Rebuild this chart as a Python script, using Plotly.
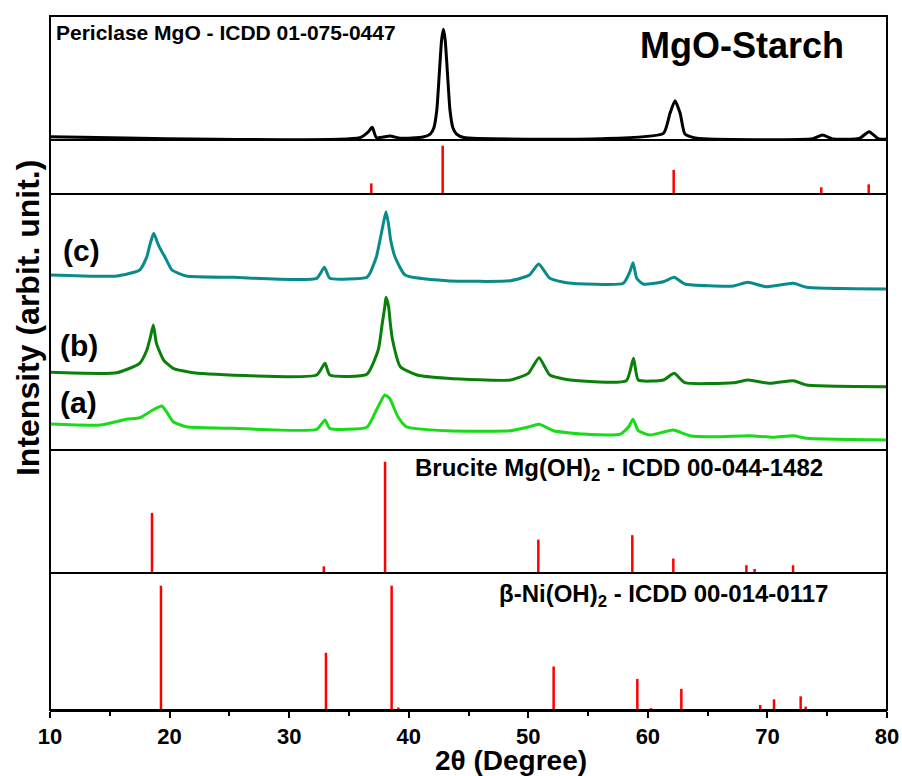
import plotly.graph_objects as go

# ---------------- data (2theta in degrees, intensity in arbitrary units) ----------------
# Panel 1: MgO-Starch measured pattern (black)
mgo_2theta = [10.0, 35.9, 36.6, 36.95, 37.3, 38.45, 39.3, 41.2, 41.8, 42.1, 42.35, 42.55, 42.75,
              42.9, 43.05, 43.25, 43.45, 43.7, 44.0, 44.6, 56.0, 61.3, 61.85, 62.27, 62.7, 63.1,
              64.1, 73.8, 74.6, 75.5, 77.7, 78.5, 79.3, 80.0]
mgo_int = [3.3, 2.3, 8.0, 12.7, 2.3, 4.0, 1.7, 3.0, 6.0, 12.0, 30.0, 65.0, 100.0,
           110.7, 100.0, 65.0, 30.0, 12.0, 6.0, 2.5, 1.3, 6.7, 26.7, 39.3, 26.7, 6.0,
           1.7, 1.3, 5.0, 1.0, 1.7, 8.3, 1.0, 1.0]

# Panel 2: Periclase MgO reference ICDD 01-075-0447
periclase_pos = [36.87, 42.84, 62.16, 74.5, 78.47]
periclase_int = [22, 100, 50, 14, 20]

# Panel 3: stacked samples (a), (b), (c)
c_2theta = [10.0, 15.6, 17.5, 18.1, 18.35, 18.67, 19.0, 19.2, 19.6, 20.2, 21.4, 25.3, 32.3, 32.95,
            33.4, 36.5, 36.76, 37.3, 37.6, 37.88, 38.1, 38.3, 38.49, 38.85, 39.7, 43.2, 48.5,
            50.1, 50.87, 51.8, 53.2, 57.95, 58.5, 58.76, 59.07, 59.6, 61.3, 62.2, 63.1, 67.15,
            68.35, 69.9, 72.17, 73.3, 80.0]
c_int = [175, 174, 180, 193.3, 205, 216.7, 207, 201.7, 193.3, 180, 174, 172.7, 171.7, 182.7,
         171.7, 172.7, 176.7, 193.3, 210, 226.7, 238.3, 226.7, 210, 193.3, 175, 169.3, 169.3,
         175, 186, 171.7, 167.3, 166.7, 178.3, 187.3, 171.7, 166, 168.3, 172.7, 166, 164,
         167.7, 163.3, 166.7, 162.7, 161]

b_2theta = [10.0, 15.6, 17.5, 18.1, 18.4, 18.64, 18.9, 19.5, 20.3, 22.0, 32.3, 33.0, 33.4, 36.5,
            37.45, 37.79, 38.0, 38.1, 38.32, 38.46, 38.65, 39.3, 40.7, 43.2, 48.5, 50.0, 50.9,
            51.8, 53.5, 58.2, 58.8, 59.2, 61.3, 62.2, 63.1, 67.15, 68.4, 70.2, 72.17, 73.3, 80.0]
b_int = [77.7, 77.3, 86.7, 100, 113, 125, 106.7, 90, 81.7, 77.3, 75, 86.7, 75, 75.7,
         100, 126.7, 143.3, 152.7, 143.3, 126.7, 110, 83.3, 75, 71.7, 70, 76.7, 92.3,
         75, 70, 69.3, 91.7, 70, 70, 76.7, 67.3, 67.3, 70, 66.7, 69.3, 65, 63.3]

a_2theta = [10.0, 14.2, 16.4, 17.5, 18.6, 19.35, 19.75, 20.3, 21.4, 25.3, 32.3, 33.0, 33.4, 36.5,
            37.3, 38.0, 38.4, 39.1, 39.8, 43.2, 48.5, 49.9, 50.9, 52.1, 54.6, 57.7, 58.4, 58.76,
            59.2, 60.2, 62.1, 63.5, 65.8, 68.5, 70.5, 72.17, 73.3, 80.0]
a_int = [26, 25, 30.7, 32.3, 40, 44, 38.3, 28.3, 23.3, 21.7, 20.7, 30, 21.7, 22.7,
         40, 55, 51.7, 33.3, 23.3, 19.3, 19.3, 22.7, 25.7, 19.3, 16, 16, 23.3, 30.7,
         19.3, 15, 20, 14.3, 13.3, 14.3, 12.7, 14.3, 11.7, 10]

# Panel 4: Brucite Mg(OH)2 reference ICDD 00-044-1482
brucite_pos = [18.53, 32.9, 38.02, 50.84, 58.7, 62.13, 68.24, 68.93, 72.14]
brucite_int = [54, 6, 100, 30, 34, 13, 7, 3.6, 7]

# Panel 5: beta-Ni(OH)2 reference ICDD 00-014-0117
nioh_pos = [19.28, 33.08, 38.57, 39.13, 52.12, 59.12, 60.26, 62.8, 69.4, 70.55, 72.78, 73.2]
nioh_int = [100, 46, 100, 2, 35, 25, 1.5, 17, 4, 8.6, 11, 2.7]

sample_labels = ["(a)", "(b)", "(c)"]
x_ticks = [10, 20, 30, 40, 50, 60, 70, 80]
x_ticktext = ["<b>%d</b>" % t for t in x_ticks]

FONT = "Liberation Sans, Arial, sans-serif"


def sticks(pos, inten):
    xs, ys = [], []
    for p, i in zip(pos, inten):
        xs += [p, p, None]
        ys += [0, i, None]
    return xs, ys


fig = go.Figure()

# MgO measured curve (top panel)
fig.add_trace(go.Scatter(x=mgo_2theta, y=mgo_int, mode="lines", yaxis="y5",
                         line=dict(color="black", width=3, shape="spline", smoothing=0.5)))

# sample curves
fig.add_trace(go.Scatter(x=a_2theta, y=a_int, mode="lines", yaxis="y3",
                         line=dict(color="#17DC17", width=3, shape="spline", smoothing=0.5)))
fig.add_trace(go.Scatter(x=b_2theta, y=b_int, mode="lines", yaxis="y3",
                         line=dict(color="#0A800A", width=3, shape="spline", smoothing=0.5)))
fig.add_trace(go.Scatter(x=c_2theta, y=c_int, mode="lines", yaxis="y3",
                         line=dict(color="#0A8B8B", width=3, shape="spline", smoothing=0.5)))

# reference sticks
for pos, inten, ax in [(periclase_pos, periclase_int, "y4"),
                       (brucite_pos, brucite_int, "y2"),
                       (nioh_pos, nioh_int, "y")]:
    xs, ys = sticks(pos, inten)
    fig.add_trace(go.Scatter(x=xs, y=ys, mode="lines", yaxis=ax,
                             line=dict(color="#FF0000", width=2.5)))

# panel domains (paper fractions, bottom -> top)
d1, d2, d3, d4 = 0.1974, 0.3746, 0.7435, 0.8213

hidden = dict(visible=False, showgrid=False, zeroline=False, fixedrange=True)
fig.update_layout(
    width=902, height=776, autosize=False,
    margin=dict(l=50, r=15, t=16, b=66, autoexpand=False),
    paper_bgcolor="white", plot_bgcolor="white",
    showlegend=False,
    font=dict(family=FONT, color="black"),
    xaxis=dict(range=[10, 80], domain=[0, 1], anchor="y", tickvals=x_ticks,
               ticktext=x_ticktext, automargin=False,
               ticks="outside", ticklen=6, tickwidth=2, tickcolor="black",
               showline=True, linecolor="black", linewidth=2, showgrid=False, zeroline=False,
               tickfont=dict(family=FONT, size=22, color="black"),
               minor=dict(dtick=5, ticks="outside", ticklen=4, tickwidth=2,
                          tickcolor="black", showgrid=False)),
    yaxis=dict(domain=[0, d1], range=[0, 110.2], anchor="x", **hidden),
    yaxis2=dict(domain=[d1, d2], range=[0, 110.5], anchor="x", **hidden),
    yaxis3=dict(domain=[d2, d3], range=[0, 256], anchor="x", **hidden),
    yaxis4=dict(domain=[d3, d4], range=[0, 111.8], anchor="x", **hidden),
    yaxis5=dict(domain=[d4, 1], range=[0, 124], anchor="x", **hidden),
)

# frame and dividers
shapes = [dict(type="rect", xref="paper", yref="paper", x0=0, x1=1, y0=0, y1=1,
               line=dict(color="black", width=2))]
for yy in [d1, d2, d3, d4]:
    shapes.append(dict(type="line", xref="paper", yref="paper", x0=0, x1=1, y0=yy, y1=yy,
                       line=dict(color="black", width=2)))
fig.update_layout(shapes=shapes)

bold = dict(family=FONT, color="black")
ann = [
    dict(text="<b>Periclase MgO - ICDD 01-075-0447</b>", x=0.0048, y=0.9762, xanchor="left",
         yanchor="middle", font=dict(size=21, **bold)),
    dict(text="<b>MgO-Starch</b>", x=0.8268, y=0.957, xanchor="center", yanchor="middle",
         font=dict(size=36, **bold)),
    dict(text="<b>%s</b>" % sample_labels[2], x=0.0379, y=0.6628, xanchor="center",
         yanchor="middle", font=dict(size=30, **bold)),
    dict(text="<b>%s</b>" % sample_labels[1], x=0.0346, y=0.5259, xanchor="center",
         yanchor="middle", font=dict(size=30, **bold)),
    dict(text="<b>%s</b>" % sample_labels[0], x=0.0335, y=0.4438, xanchor="center",
         yanchor="middle", font=dict(size=30, **bold)),
    dict(text="<b>Brucite Mg(OH)<sub>2</sub> - ICDD 00-044-1482</b>", x=0.434, y=0.3465,
         xanchor="left", yanchor="middle", font=dict(size=24, **bold)),
    dict(text="<b>β-Ni(OH)<sub>2</sub> - ICDD 00-014-0117</b>", x=0.5337, y=0.1643,
         xanchor="left", yanchor="middle", font=dict(size=24, **bold)),
    dict(text="<b>2θ (Degree)</b>", x=0.551, y=-0.0725, xanchor="center", yanchor="middle",
         font=dict(size=28, **bold)),
    dict(text="<b>Intensity (arbit. unit.)</b>", x=-0.0263, y=0.5648, xanchor="center",
         yanchor="middle", textangle=-90, font=dict(size=32, **bold)),
]
for a in ann:
    a.update(xref="paper", yref="paper", showarrow=False)
fig.update_layout(annotations=ann)

fig.write_html("out.html", config={"responsive": False, "displayModeBar": False},
               post_script="document.body.style.margin='0';"
                           "document.body.style.overflow='hidden';")
